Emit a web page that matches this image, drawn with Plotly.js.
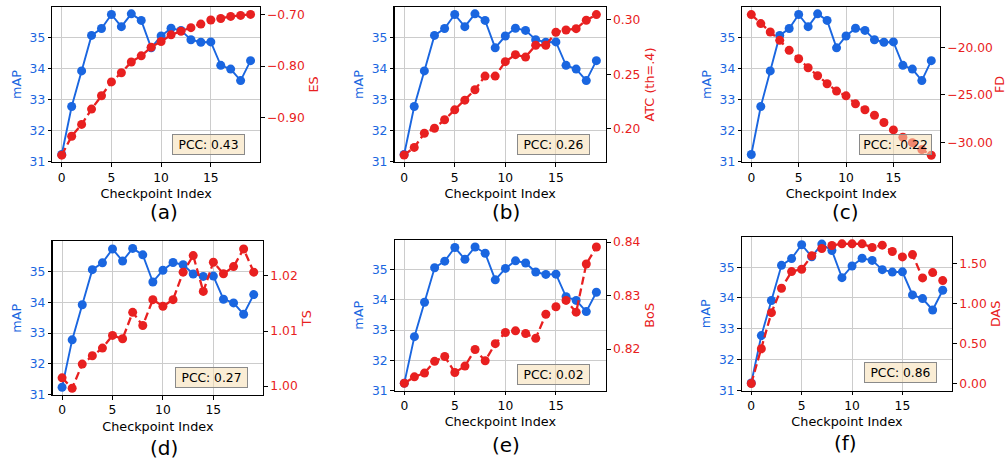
<!DOCTYPE html>
<html>
<head>
<meta charset="utf-8">
<script src="https://cdn.plot.ly/plotly-3.0.1.min.js"></script>
<style>html,body{margin:0;padding:0;background:#fff;}#chart{width:1007px;height:460px;}</style>
</head>
<body>
<div id="chart"></div>
<script>
const checkpoints = [0,1,2,3,4,5,6,7,8,9,10,11,12,13,14,15,16,17,18,19];
const mAP = [31.24,32.78,33.92,35.06,35.28,35.73,35.34,35.75,35.54,34.66,35.04,35.29,35.22,34.92,34.84,34.85,34.10,33.98,33.61,34.25];
const ES  = [-0.974,-0.937,-0.914,-0.884,-0.858,-0.831,-0.813,-0.792,-0.780,-0.763,-0.752,-0.739,-0.732,-0.725,-0.718,-0.710,-0.707,-0.703,-0.701,-0.699];
const ATC = [0.176,0.183,0.196,0.2006,0.2083,0.2174,0.2263,0.2358,0.2483,0.2483,0.2615,0.2679,0.2657,0.2765,0.2765,0.2884,0.2905,0.2917,0.2994,0.3046];
const FD  = [-16.55,-17.5,-18.38,-19.26,-20.32,-21.2,-22.15,-22.99,-23.84,-24.61,-25.11,-25.95,-26.58,-27.15,-27.92,-28.70,-29.47,-30.04,-30.77,-31.37];
const TS  = [1.0015,0.9996,1.0040,1.0055,1.0069,1.0092,1.0086,1.0134,1.0110,1.0157,1.0145,1.0157,1.0207,1.0237,1.0172,1.0225,1.0204,1.0217,1.0249,1.0207];
const BoS = [0.8136,0.8148,0.8155,0.8177,0.8186,0.8156,0.8168,0.8199,0.8178,0.8210,0.8231,0.8234,0.8229,0.8220,0.8265,0.8279,0.8291,0.8269,0.8359,0.8391];
const DAS = [0.00,0.433,0.883,1.1875,1.396,1.425,1.592,1.683,1.721,1.742,1.742,1.742,1.696,1.725,1.646,1.579,1.608,1.317,1.383,1.283];

const metricNames = ["ES","ATC (th=.4)","FD","TS","BoS","DAS"];
const metricSeries = [ES, ATC, FD, TS, BoS, DAS];
const pccValues = ["0.43","0.26","-0.22","0.27","0.02","0.86"];
const captions = ["(a)","(b)","(c)","(d)","(e)","(f)"];
const xTitle = "Checkpoint Index";
const leftTitle = "mAP";

// layout-only settings (positions / styles)
const W = 1007, H = 460;
const boxesPx = [ // plot area [x0,x1,y0,y1] in page px
  [52.3,260,6.7,162.3],[394.5,606,6.7,162.3],[742.3,940.3,6.7,162.3],
  [52.5,263.3,241.3,395],[394.7,606,240,390.7],[741.7,952.3,237,390.7]
];
const rightRanges = [[-0.988,-0.684],[0.1694,0.3118],[-32.11,-15.72],[0.99838,1.0263],[0.8122,0.8404],[-0.09,1.827]];
const rightDticks = [0.1,0.05,5,0.01,0.01,0.5];
const pccPx = [[208.5,144.2],[553.5,144.2],[895,144.2],[211.5,377.2],[553.5,374],[900.5,372.7]];
const capPx = [[164,212],[506,212],[845,212],[164,448],[506,445],[845,443]];

const BLUE = "#1a66e0", RED = "#e82020";
const FONT = "DejaVu Sans";

const traces = [];
const layout = {
  width: W, height: H,
  margin: {l:0,r:0,t:0,b:0},
  paper_bgcolor: "#fff", plot_bgcolor: "rgba(0,0,0,0)",
  showlegend: false,
  font: {family: FONT, size: 12, color: "#000"},
  annotations: []
};

for (let i = 0; i < 6; i++) {
  const n = i + 1, yl = 2*i + 1, yr = 2*i + 2;
  const b = boxesPx[i];
  const xd = [b[0]/W, b[1]/W];
  const yd = [1 - b[3]/H, 1 - b[2]/H];
  const xk = "xaxis" + (n===1 ? "" : n);
  const ylk = "yaxis" + (yl===1 ? "" : yl);
  const yrk = "yaxis" + yr;
  const xref = "x" + (n===1 ? "" : n);
  const ylref = "y" + (yl===1 ? "" : yl);
  const yrref = "y" + yr;

  layout[xk] = {
    domain: xd, anchor: ylref, range: [-0.95, 19.95],
    tick0: 0, dtick: 5, ticks: "outside", ticklen: 3.5, tickwidth: 1, tickcolor: "#000",
    showline: true, mirror: true, linecolor: "#000", linewidth: 1.1,
    showgrid: true, gridcolor: "#cccccc", gridwidth: 1, zeroline: false,
    tickfont: {family: FONT, size: 12.3, color: "#000"},
    title: {text: xTitle, font: {family: FONT, size: 12.8, color: "#000"}, standoff: 5},
    automargin: false
  };
  layout[ylk] = {
    domain: yd, anchor: xref, range: [30.99, 35.98],
    tick0: 31, dtick: 1, ticks: "outside", ticklen: 3.5, tickwidth: 1, tickcolor: "#000",
    showline: true, mirror: true, linecolor: "#000", linewidth: 1.1,
    showgrid: true, gridcolor: "#cccccc", gridwidth: 1, zeroline: false,
    tickfont: {family: FONT, size: 12.3, color: BLUE},
    title: {text: leftTitle, font: {family: FONT, size: 12.8, color: BLUE}, standoff: 5},
    automargin: false
  };
  layout[yrk] = {
    overlaying: ylref, side: "right", anchor: xref, range: rightRanges[i],
    dtick: rightDticks[i], tick0: 0, tickformat: ".2f",
    ticks: "outside", ticklen: 3.5, tickwidth: 1, tickcolor: "#000",
    showline: true, linecolor: "#000", linewidth: 1.1,
    showgrid: false, zeroline: false,
    tickfont: {family: FONT, size: 12.3, color: RED},
    title: {text: metricNames[i], font: {family: FONT, size: 12.8, color: RED}, standoff: 5},
    automargin: false
  };

  traces.push({
    type: "scatter", mode: "lines+markers", x: checkpoints, y: mAP,
    xaxis: xref, yaxis: ylref, cliponaxis: false,
    line: {color: BLUE, width: 1.9},
    marker: {color: BLUE, size: 9}
  });
  traces.push({
    type: "scatter", mode: "lines+markers", x: checkpoints, y: metricSeries[i],
    xaxis: xref, yaxis: yrref, cliponaxis: false,
    line: {color: RED, width: 2.3, dash: "8px,4px"},
    marker: {color: RED, size: 9}
  });

  layout.annotations.push({
    xref: "paper", yref: "paper", x: pccPx[i][0]/W, y: 1 - pccPx[i][1]/H,
    xanchor: "center", yanchor: "middle", showarrow: false,
    text: "PCC: " + pccValues[i],
    font: {family: FONT, size: 12.3, color: "#000"},
    bgcolor: "rgba(245,222,179,0.55)", bordercolor: "#8a8a8a", borderwidth: 1,
    width: 69, height: 17, borderpad: 1
  });
  layout.annotations.push({
    xref: "paper", yref: "paper", x: capPx[i][0]/W, y: 1 - capPx[i][1]/H,
    xanchor: "center", yanchor: "middle", showarrow: false,
    text: captions[i], font: {family: FONT, size: 20, color: "#000"}
  });
}

Plotly.newPlot("chart", traces, layout, {staticPlot: true, displayModeBar: false});
</script>
</body>
</html>
